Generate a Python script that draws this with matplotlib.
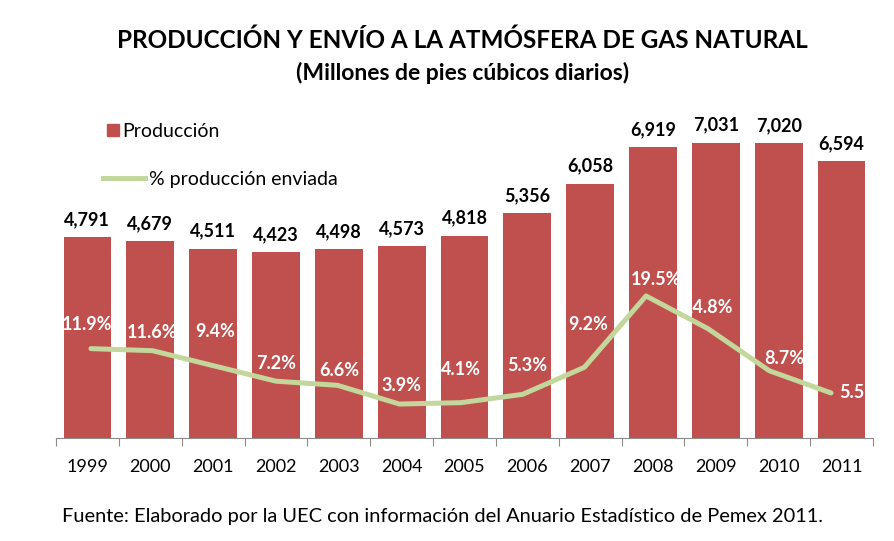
import matplotlib
matplotlib.use("Agg")
import matplotlib.pyplot as plt
import numpy as np
from matplotlib.lines import Line2D

plt.rcParams['font.family'] = ['Lato', 'DejaVu Sans']

# ── Data ──────────────────────────────────────────────────────────────────────
years = ['1999', '2000', '2001', '2002', '2003', '2004', '2005',
         '2006', '2007', '2008', '2009', '2010', '2011']
produccion = [4791, 4679, 4511, 4423, 4498, 4573, 4818,
              5356, 6058, 6919, 7031, 7020, 6594]
pct_enviada = [11.9, 11.6, 9.4, 7.2, 6.6, 3.9, 4.1,
               5.3, 9.2, 19.5, 14.8, 8.7, 5.5]
pct_labels = ['11.9%', '11.6%', '9.4%', '7.2%', '6.6%', '3.9%', '4.1%',
              '5.3%', '9.2%', '19.5%', '14.8%', '8.7%', '5.5%']

# label placement for the % labels (pixels, as in the original layout)
lbl_dx = [-4, 0, 1, 0, 2, 2, 0, 5, 4, 10, 0, 15, 8]
lbl_dy = [24, 18, 34, 18, 15, 19, 33, 29, 43, 16, 21, 12, 0]

bar_color = '#C0504D'
line_color = '#C3D69B'

fig = plt.figure(figsize=(8.94, 5.41), dpi=100)
rect = [0.0626, 0.1904, 0.9139, 0.6211]
ax = fig.add_axes(rect)
x = np.arange(len(years))

ax.bar(x, produccion, width=0.76, color=bar_color, zorder=2)
ax.set_xlim(-0.5, len(years) - 0.5)
ax.set_ylim(0, 8000)
for xi, v in zip(x, produccion):
    ax.annotate(f'{v:,}', (xi, v), xytext=(0, 9), textcoords='offset pixels',
                ha='center', va='bottom', fontsize=13, fontweight='bold')

# bottom axis: ticks between categories, labels centred
ax.set_xticks(np.arange(-0.5, len(years), 1.0))
ax.set_xticklabels([])
ax.set_xticks(x, minor=True)
ax.set_xticklabels(years, minor=True, fontsize=13)
ax.tick_params(axis='x', which='major', length=6, color='#8c8c8c', direction='out')
ax.tick_params(axis='x', which='minor', length=0, pad=15)
ax.set_yticks([])
for s in ['left', 'right', 'top']:
    ax.spines[s].set_visible(False)
ax.spines['bottom'].set_color('#8c8c8c')

# secondary axes for the % line (Excel places its points on a slightly tighter scale)
ax2 = fig.add_axes(rect, facecolor='none')
ax2.set_xlim(-0.567, 12.68)
ax2.set_ylim(-1.0, 47.5)
ax2.plot(x, pct_enviada, color=line_color, linewidth=3.6, zorder=3,
         solid_capstyle='round')
ax2.set_xticks([])
ax2.set_yticks([])
for s in ['left', 'right', 'top', 'bottom']:
    ax2.spines[s].set_visible(False)
for i, (xi, v, t) in enumerate(zip(x, pct_enviada, pct_labels)):
    ha = 'left' if i == len(years) - 1 else 'center'
    ax2.annotate(t, (xi, v), xytext=(lbl_dx[i], lbl_dy[i]),
                 textcoords='offset pixels', ha=ha, va='center',
                 fontsize=13, fontweight='bold', color='white',
                 annotation_clip=False)

# legend
leg1 = ax2.legend(handles=[Line2D([], [], marker='s', linestyle='none',
                                  markersize=9, color=bar_color)],
                  labels=['Producción'], frameon=False, fontsize=14,
                  loc='upper left', bbox_to_anchor=(0.04, 0.99),
                  handlelength=0.7, handletextpad=0.15)
ax2.add_artist(leg1)
ax2.legend(handles=[Line2D([], [], color=line_color, linewidth=3.6)],
           labels=['% producción enviada'], frameon=False, fontsize=14,
           loc='upper left', bbox_to_anchor=(0.036, 0.848),
           handlelength=2.15, handletextpad=0.2)

fig.text(0.517, 0.926, 'PRODUCCIÓN Y ENVÍO A LA ATMÓSFERA DE GAS NATURAL',
         ha='center', va='center', fontsize=17.5, fontweight='bold')
fig.text(0.517, 0.866, '(Millones de pies cúbicos diarios)',
         ha='center', va='center', fontsize=16.5, fontweight='bold')
fig.text(0.069, 0.045,
         'Fuente: Elaborado por la UEC con información del Anuario Estadístico de Pemex 2011.',
         ha='left', va='center', fontsize=14.4)

fig.savefig('out.png', dpi=100)
